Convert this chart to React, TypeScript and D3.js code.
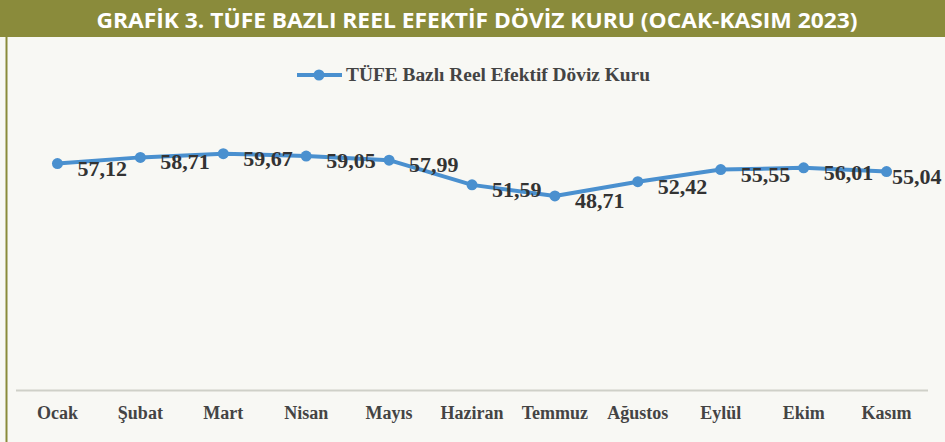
import React from "react";
import * as d3 from "d3";

const months = ["Ocak", "Şubat", "Mart", "Nisan", "Mayıs", "Haziran", "Temmuz", "Ağustos", "Eylül", "Ekim", "Kasım"];
const values = [57.12, 58.71, 59.67, 59.05, 57.99, 51.59, 48.71, 52.42, 55.55, 56.01, 55.04];
const seriesName = "TÜFE Bazlı Reel Efektif Döviz Kuru";
const title = "GRAFİK 3. TÜFE BAZLI REEL EFEKTİF DÖVİZ KURU (OCAK-KASIM 2023)";
const yDomain = [0, 70];

const W = 945;
const H = 442;
const LINE = "#4a90cf";
const fmt = (v: number) => v.toFixed(2).replace(".", ",");

export default function App() {
  const x = d3.scaleBand<string>().domain(months).range([16, 928]);
  const y = d3.scaleLinear().domain(yDomain).range([384, 384 - 70 * 3.86]);
  const cx = (m: string) => (x(m) as number) + x.bandwidth() / 2;
  const line = d3
    .line<number>()
    .x((_, i) => cx(months[i]))
    .y((d) => y(d));
  const labelW = 50;

  return (
    <svg width={W} height={H} style={{ position: "absolute", left: 0, top: 0 }}>
      <rect x={0} y={0} width={W} height={H} fill="#f8f8f4" />
      <rect x={0} y={0} width={W} height={37} fill="#8a8b3b" />
      <line x1={6.5} x2={6.5} y1={37} y2={H} stroke="#8a8b3b" strokeWidth={2} />
      <text
        x={477}
        y={28}
        textAnchor="middle"
        fill="#ffffff"
        fontFamily="'Open Sans', sans-serif"
        fontWeight={700}
        fontSize={22}
        textLength={761}
        lengthAdjust="spacingAndGlyphs"
      >
        {title}
      </text>

      {/* legend */}
      <line x1={297} x2={342} y1={75} y2={75} stroke={LINE} strokeWidth={4} />
      <circle cx={319} cy={75} r={5.5} fill={LINE} />
      <text
        x={346}
        y={81}
        fill="#444"
        fontFamily="'Liberation Serif', 'Times New Roman', serif"
        fontWeight={700}
        fontSize={18}
        textLength={304}
        lengthAdjust="spacingAndGlyphs"
      >
        {seriesName}
      </text>

      {/* axis line */}
      <line x1={16} x2={928} y1={390.5} y2={390.5} stroke="#cfd0c8" strokeWidth={2} />
      {months.map((m) => (
        <text
          key={m}
          x={cx(m)}
          y={419}
          textAnchor="middle"
          fill="#444"
          fontFamily="'Liberation Serif', 'Times New Roman', serif"
          fontWeight={700}
          fontSize={18}
        >
          {m}
        </text>
      ))}

      <path d={line(values) as string} fill="none" stroke={LINE} strokeWidth={4} strokeLinejoin="round" />
      {values.map((v, i) => (
        <circle key={i} cx={cx(months[i])} cy={y(v)} r={5.5} fill={LINE} />
      ))}
      {values.map((v, i) => (
        <text
          key={"l" + i}
          x={Math.min(cx(months[i]) + 20, W - 3 - labelW)}
          y={y(v) + 12}
          fill="#333"
          fontFamily="'Liberation Serif', 'Times New Roman', serif"
          fontWeight={700}
          fontSize={22}
        >
          {fmt(v)}
        </text>
      ))}
    </svg>
  );
}
